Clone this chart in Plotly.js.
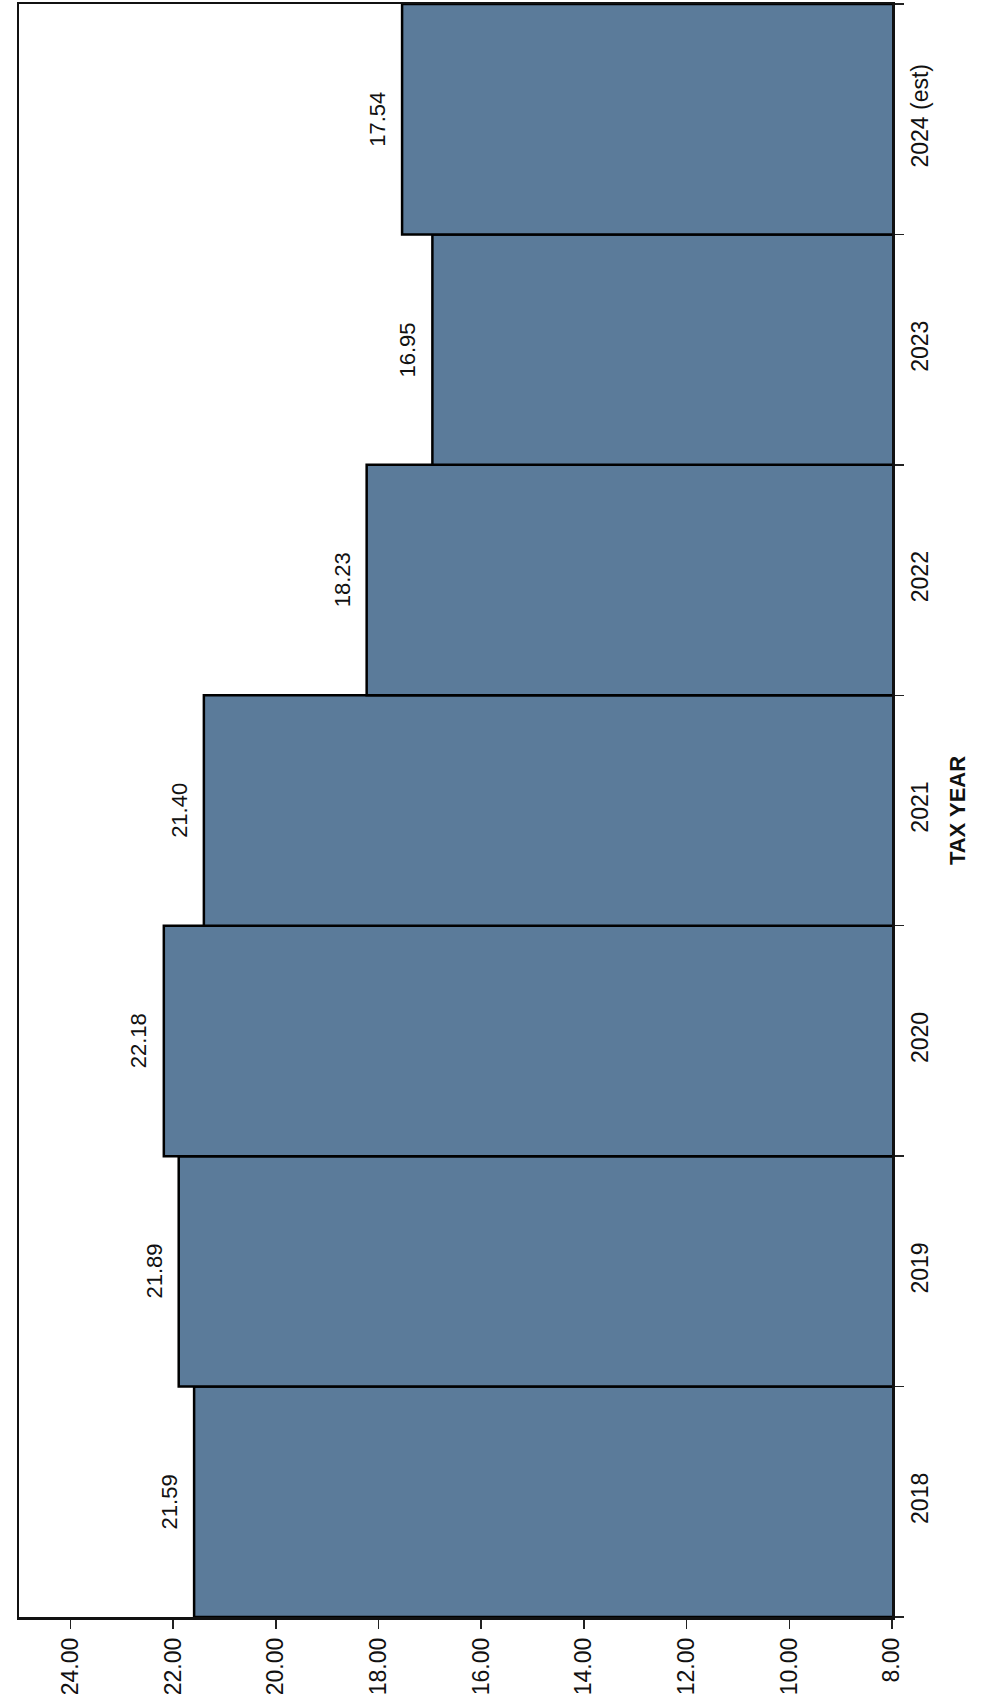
<!DOCTYPE html>
<html>
<head>
<meta charset="utf-8">
<script src="https://cdn.plot.ly/plotly-3.0.1.min.js"></script>
<style>html,body{margin:0;padding:0;background:#fff;}#chart{width:1000px;height:1701px;}</style>
</head>
<body>
<div id="chart"></div>
<script>
const taxYears = ["2018", "2019", "2020", "2021", "2022", "2023", "2024 (est)"];
const rates = [21.59, 21.89, 22.18, 21.40, 18.23, 16.95, 17.54];
const valueTicks = [8, 10, 12, 14, 16, 18, 20, 22, 24];

const FONT = "Liberation Sans, Arial, sans-serif";

const trace = {
  type: "bar",
  orientation: "h",
  y: taxYears,
  x: rates,
  marker: {color: "#5b7b9a", line: {color: "#000", width: 2.5}},
  hoverinfo: "y+x"
};

// category axis positions are given by index (serial number of the category)
const valueLabels = taxYears.map((yr, i) => ({
  x: rates[i],
  y: i,
  xref: "x",
  yref: "y",
  text: rates[i].toFixed(2),
  textangle: -90,
  showarrow: false,
  xanchor: "right",
  yanchor: "middle",
  xshift: -10,
  font: {family: FONT, size: 22, color: "#111"}
}));

const layout = {
  width: 1000,
  height: 1701,
  margin: {l: 19, r: 108, t: 4, b: 84},
  paper_bgcolor: "#fff",
  plot_bgcolor: "#fff",
  bargap: 0,
  showlegend: false,
  font: {family: FONT, size: 22, color: "#111"},
  annotations: valueLabels,
  xaxis: {
    range: [25, 8],
    tickvals: valueTicks,
    tickformat: ".2f",
    tickangle: -90,
    ticks: "outside",
    ticklen: 9,
    tickwidth: 1.5,
    tickcolor: "#222",
    showgrid: false,
    zeroline: false,
    showline: true,
    linecolor: "#111",
    linewidth: 2.5,
    mirror: true,
    tickfont: {size: 23}
  },
  yaxis: {
    type: "category",
    categoryarray: taxYears,
    range: [-0.5, taxYears.length - 0.5],
    side: "right",
    tickangle: -90,
    ticks: "outside",
    tickson: "boundaries",
    ticklen: 9,
    tickwidth: 1.5,
    tickcolor: "#222",
    showgrid: false,
    showline: true,
    linecolor: "#111",
    linewidth: 2.5,
    mirror: true,
    ticklabelstandoff: 6,
    tickfont: {size: 23},
    title: {text: "<b>TAX YEAR</b>", font: {size: 22}, standoff: 18}
  }
};

Plotly.newPlot("chart", [trace], layout, {displayModeBar: false, staticPlot: true});
</script>
</body>
</html>
